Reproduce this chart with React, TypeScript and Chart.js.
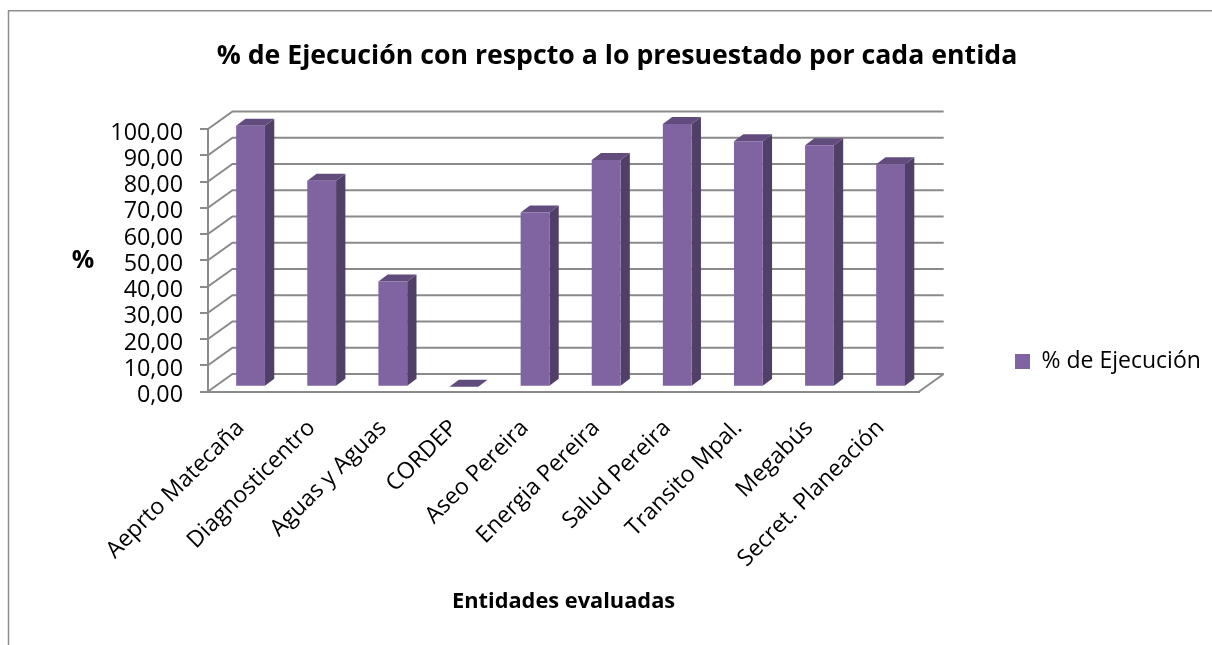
import React, { useEffect, useRef } from "react";
import { Chart, registerables } from "chart.js";

Chart.register(...registerables);

const categories = [
  "Aeprto Matecaña",
  "Diagnosticentro",
  "Aguas y Aguas",
  "CORDEP",
  "Aseo Pereira",
  "Energia Pereira",
  "Salud Pereira",
  "Transito Mpal.",
  "Megabús",
  "Secret. Planeación",
];
const ejecucion = [99.4, 78.5, 40.1, 0, 66.4, 86.4, 100.1, 93.5, 92.0, 84.8];

const seriesName = "% de Ejecución";
const chartTitle = "% de Ejecución con respcto a lo presuestado por cada entida";
const xTitle = "Entidades evaluadas";
const yTitle = "%";

const FONT = "'Open Sans'";
const GRID = "#8a8a8a";
const FRONT = "#8064A2";
const SIDE = "#503F66";
const TOP = "#624C7E";

const WIDTH = 1212;
const HEIGHT = 645;
const LEGEND_FONT = 23;
const LEGEND_PAD = 50;
const PAD_L = 69;
const PAD_R = 47;
const PAD_B = 30;

const plot = { left: 208, right: 918, top: 129, bottom: 391.5 };
const wall = { dx: 24.5, dy: -17.5 };
const barShift = { dx: 7, dy: -4.8 };
const barDepth = { dx: 9.3, dy: -7 };

const threeD = {
  id: "threeD",
  afterLayout(chart: any) {
    const lg = chart.legend;
    if (lg) {
      const p = lg.options.labels.padding;
      lg.left = 1015 - p;
      lg.right = WIDTH;
      lg.width = lg.right - lg.left;
      lg.top = 350 - p;
      lg.bottom = lg.top + lg.height;
    }
  },
  beforeDraw(chart: any) {
    const { ctx } = chart;
    ctx.save();
    ctx.strokeStyle = "#8e8e8e";
    ctx.lineWidth = 1.5;
    ctx.beginPath();
    ctx.moveTo(8.5, HEIGHT);
    ctx.lineTo(8.5, 10.8);
    ctx.lineTo(WIDTH, 10.8);
    ctx.stroke();
    ctx.restore();
  },
  beforeDatasetsDraw(chart: any) {
    const { ctx, chartArea, scales } = chart;
    const y = scales.y;
    ctx.save();
    ctx.strokeStyle = GRID;
    ctx.lineWidth = 2;
    for (const t of y.ticks) {
      const py = y.getPixelForValue(t.value);
      ctx.beginPath();
      ctx.moveTo(chartArea.left, py);
      ctx.lineTo(chartArea.left + wall.dx, py + wall.dy);
      ctx.lineTo(chartArea.right + wall.dx, py + wall.dy);
      ctx.stroke();
    }
    const py0 = y.getPixelForValue(0);
    ctx.beginPath();
    ctx.moveTo(chartArea.right, py0);
    ctx.lineTo(chartArea.right + wall.dx, py0 + wall.dy);
    ctx.stroke();
    ctx.restore();

    const meta = chart.getDatasetMeta(0);
    ctx.save();
    ctx.translate(barShift.dx, barShift.dy);
    for (const el of meta.data) {
      const l = el.x - el.width / 2;
      const r = el.x + el.width / 2;
      const top = el.y;
      const base = el.base;
      ctx.fillStyle = SIDE;
      ctx.beginPath();
      ctx.moveTo(r, top);
      ctx.lineTo(r + barDepth.dx, top + barDepth.dy);
      ctx.lineTo(r + barDepth.dx, base + barDepth.dy);
      ctx.lineTo(r, base);
      ctx.closePath();
      ctx.fill();
      ctx.fillStyle = TOP;
      ctx.beginPath();
      ctx.moveTo(l, top);
      ctx.lineTo(l + barDepth.dx, top + barDepth.dy);
      ctx.lineTo(r + barDepth.dx, top + barDepth.dy);
      ctx.lineTo(r, top);
      ctx.closePath();
      ctx.fill();
    }
    ctx.restore();
  },
  beforeDatasetDraw(chart: any) {
    chart.ctx.save();
    chart.ctx.translate(barShift.dx, barShift.dy);
  },
  afterDatasetDraw(chart: any) {
    chart.ctx.restore();
  },
  afterDraw(chart: any) {
    const { ctx } = chart;
    ctx.save();
    ctx.fillStyle = "#000";
    ctx.font = `bold 25px ${FONT}`;
    ctx.textAlign = "center";
    ctx.textBaseline = "middle";
    ctx.fillText(yTitle, 83, 261);
    ctx.restore();
  },
};

export default function App() {
  const ref = useRef<HTMLCanvasElement>(null);
  useEffect(() => {
    document.body.style.margin = "0";
    document.body.style.background = "#fff";

    const chart = new Chart(ref.current!, {
      type: "bar",
      data: {
        labels: categories,
        datasets: [
          {
            label: seriesName,
            data: ejecucion,
            backgroundColor: FRONT,
            borderWidth: 0,
            barPercentage: 0.405,
            categoryPercentage: 1,
            clip: false as any,
          },
        ],
      },
      options: {
        responsive: false,
        animation: false,
        layout: { padding: { left: PAD_L, right: PAD_R, top: 0, bottom: PAD_B } },
        plugins: {
          tooltip: { enabled: false },
          title: {
            display: true,
            text: chartTitle,
            color: "#000",
            font: { family: FONT, size: 26.7, weight: "bold" },
            padding: { top: 40, bottom: 57 },
          },
          legend: {
            display: true,
            position: "right",
            align: "start",
            labels: {
              boxWidth: 15,
              boxHeight: 15,
              padding: LEGEND_PAD,
              color: "#000",
              font: { family: FONT, size: LEGEND_FONT },
            },
          },
        },
        scales: {
          x: {
            type: "category",
            afterFit(s: any) {
              s.height = HEIGHT - PAD_B - plot.bottom;
            },
            grid: { display: true, drawOnChartArea: false, drawTicks: false },
            border: { display: true, color: GRID, width: 2 },
            ticks: {
              color: "#000",
              font: { family: FONT, size: 23 },
              minRotation: 45,
              maxRotation: 45,
              autoSkip: false,
              padding: 23,
              labelOffset: -3,
            },
            title: {
              display: true,
              text: xTitle,
              color: "#000",
              font: { family: FONT, size: 21.8, weight: "bold" },
              padding: { top: 0, bottom: 0 },
            },
          },
          y: {
            min: 0,
            max: 100,
            afterFit(s: any) {
              s.width = plot.left - PAD_L;
            },
            grid: { display: true, drawOnChartArea: false, drawTicks: true, tickLength: 8, color: GRID, lineWidth: 2 },
            border: { display: true, color: GRID, width: 2 },
            ticks: {
              stepSize: 10,
              autoSkip: false,
              color: "#000",
              font: { family: FONT, size: 23.3 },
              padding: 17,
              labelOffset: 4,
              callback: (v: any) => Number(v).toFixed(2).replace(".", ","),
            },
          },
        },
      },
      plugins: [threeD],
    } as any);
    return () => chart.destroy();
  }, []);
  return <canvas ref={ref} width={WIDTH} height={HEIGHT} style={{ display: "block" }} />;
}
